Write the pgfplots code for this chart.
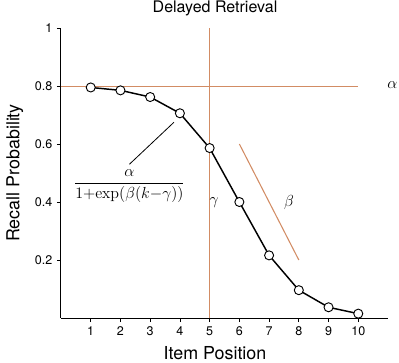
\documentclass[border=0pt]{standalone}
\usepackage[no-math]{fontspec}
\setmainfont{TeX Gyre Heros}
\usepackage{pgfplots}
\pgfplotsset{compat=1.18}
\definecolor{tanline}{RGB}{210,140,100}
\begin{document}
\begin{tikzpicture}
\begin{axis}[
  scale only axis, width=245.25pt, height=217.5pt,
  xmin=0, xmax=11, ymin=0, ymax=1,
  axis lines=left, axis line style={-, line width=0.75pt},
  tick align=outside, major tick length=3pt,
  tick style={black, line width=0.6pt},
  xtick={1,...,10}, ytick={0.2,0.4,0.6,0.8,1},
  /pgf/number format/assume math mode=true,
  ticklabel style={font=\fontsize{9.4}{11}\selectfont},
  clip=false,
  title={Delayed Retrieval},
  title style={at={(axis description cs:0.471,1.025)}, anchor=base, font=\fontsize{12}{14}\selectfont},
  xlabel={Item Position},
  xlabel style={at={(axis description cs:0.471,-0.143)}, anchor=base, font=\fontsize{13.4}{16}\selectfont},
  ylabel={Recall Probability},
  ylabel style={at={(axis description cs:-0.141,0.5)}, anchor=center, font=\fontsize{13.4}{16}\selectfont},
]
\addplot[tanline, line width=0.7pt] coordinates {(0,0.8) (10,0.8)};
\addplot[tanline, line width=0.9pt] coordinates {(5,0) (5,1)};
\addplot[tanline, line width=0.8pt] coordinates {(6,0.6) (8,0.2)};
\addplot[black, line width=0.6pt] coordinates {(2.3,0.53) (3.8,0.675)};
\addplot[black, line width=1.1pt, mark=*, mark size=3.4pt,
  mark options={fill=white, draw=black, line width=0.7pt}] coordinates {
  (1,0.795) (2,0.785) (3,0.762) (4,0.706) (5,0.586)
  (6,0.400) (7,0.216) (8,0.096) (9,0.037) (10,0.015)};
\node at (axis cs:2.3,0.455) {\fontsize{12}{14}\selectfont $\displaystyle\frac{\alpha}{1{+}\mathrm{exp}(\beta(k{-}\gamma))}$};
\node at (axis cs:5.15,0.397) {\fontsize{13}{15}\selectfont $\gamma$};
\node at (axis cs:7.67,0.40) {\fontsize{13}{15}\selectfont $\beta$};
\node at (axis cs:11.15,0.803) {\fontsize{13}{15}\selectfont $\alpha$};
\end{axis}
\pgfresetboundingbox
\path[use as bounding box] (-45.75pt,-33pt) rectangle (253.5pt,238.5pt);
\end{tikzpicture}
\end{document}
